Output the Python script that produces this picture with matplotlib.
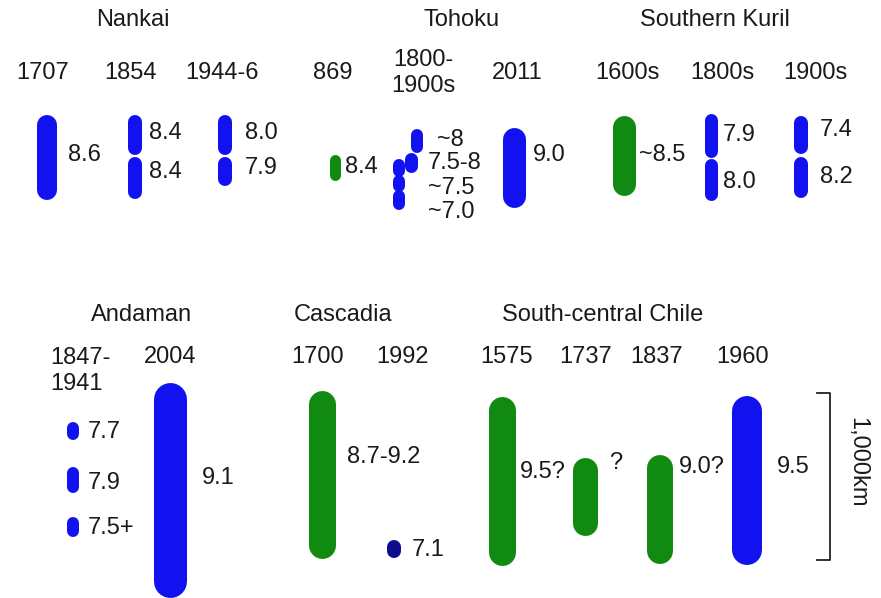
import matplotlib.pyplot as plt

plt.rcParams['font.family'] = ['Liberation Sans', 'DejaVu Sans']

# rupture extents along strike (km), measured from the top of each row
seg_start_km = [30, 30, 282, 30, 282, 264, 114, 252, 294, 390, 480, 102, 30, 18, 288, 36, 282,
                252, 522, 822, 12, 60, 960, 96, 462, 450, 96]
seg_end_km = [540, 270, 534, 270, 456, 420, 258, 372, 402, 492, 600, 582, 510, 282, 540, 264, 528,
              360, 678, 942, 1302, 1068, 1068, 1110, 930, 1104, 1110]
seg_kind = ['b', 'b', 'b', 'b', 'b', 'g', 'b', 'b', 'b', 'b', 'b', 'b', 'g', 'b', 'b', 'b', 'b',
            'b', 'b', 'b', 'b', 'g', 'n', 'g', 'g', 'g', 'b']

magnitudes = ["8.6", "8.4", "8.4", "8.0", "7.9", "8.4", "~8", "7.5-8", "~7.5", "~7.0", "9.0",
              "~8.5", "7.9", "8.0", "7.4", "8.2",
              "7.7", "7.9", "7.5+", "9.1", "8.7-9.2", "7.1", "9.5?", "?", "9.0?", "9.5"]

regions = ["Nankai", "Tohoku", "Southern Kuril", "Andaman", "Cascadia", "South-central Chile"]
years = ["1707", "1854", "1944-6", "869", "1800-\n1900s", "2011", "1600s", "1800s", "1900s",
         "1847-\n1941", "2004", "1700", "1992", "1575", "1737", "1837", "1960"]

# layout (pixels)
KM_PER_PX = 6.0
W, H = 881, 598
row_top = [110, 380]
seg_row = [0] * 17 + [1] * 10
seg_x = [47, 135, 135, 225, 225, 334.5, 417, 410.5, 399, 399, 399, 513.5, 623.5, 710.5, 710.5, 801, 801,
         73, 73, 73, 169.5, 321.5, 393.5, 501.5, 584.5, 660, 747]
seg_w = [20, 14, 14, 14, 14, 11, 12, 13, 12, 12, 12, 23, 23, 13, 13, 14, 14,
         12, 12, 12, 33, 27, 14, 27, 25, 26, 30]
mag_x = [68, 149, 149, 245, 245, 345, 437, 428, 428, 428, 533, 639, 723, 723, 820, 820,
         88, 88, 88, 202, 347, 412, 520, 609, 679, 777]
mag_y = [155, 133, 172, 133, 168, 167, 140, 163, 188, 212, 155, 155, 135, 182, 130, 177,
         432, 483, 528, 478, 457, 550, 472, 463, 467, 467]
region_x = [133, 462, 715, 142, 343, 603]
region_y = [20, 20, 20, 315, 315, 315]
year_x = [43, 130, 222, 333, 423, 517, 627, 722, 815, 50, 170, 318, 403, 507, 586, 657, 743]
year_y = [73, 73, 73, 73, 73, 73, 73, 73, 73, 371, 357, 357, 357, 357, 357, 357, 357]

colors = {'b': '#1212f0', 'g': '#118a11', 'n': '#0c0c8e'}
FS = 17
TXT = '#1a1a1a'

fig = plt.figure(figsize=(W / 100, H / 100), dpi=100)
ax = fig.add_axes([0, 0, 1, 1])
ax.set_xlim(0, W)
ax.set_ylim(H * KM_PER_PX, 0)
ax.axis('off')

for i in range(len(seg_start_km)):
    base = row_top[seg_row[i]] * KM_PER_PX
    r = seg_w[i] / 2 * KM_PER_PX
    y0 = base + seg_start_km[i] + r
    y1 = base + seg_end_km[i] - r
    if y1 < y0:
        y0 = y1 = (y0 + y1) / 2
    ax.plot([seg_x[i], seg_x[i]], [y0, y1], color=colors[seg_kind[i]],
            lw=seg_w[i] * 0.72, solid_capstyle='round')

for t, x, y in zip(magnitudes, mag_x, mag_y):
    ax.text(x, y * KM_PER_PX, t, fontsize=FS, ha='left', va='center', color=TXT)

for t, x, y in zip(regions, region_x, region_y):
    ax.text(x, y * KM_PER_PX, t, fontsize=FS, ha='center', va='center', color=TXT)

for t, x, y in zip(years, year_x, year_y):
    if t.startswith("1847"):
        ax.text(x, y * KM_PER_PX, t, fontsize=FS, ha='left', va='center',
                linespacing=1.2, color=TXT)
    else:
        ax.text(x, y * KM_PER_PX, t, fontsize=FS, ha='center', va='center',
                multialignment='center', linespacing=1.25, color=TXT)

# scale bar: 1,000 km
sb_top = 393 * KM_PER_PX
sb_len = 1000
ax.plot([817, 830, 830, 817], [sb_top, sb_top, sb_top + sb_len, sb_top + sb_len],
        color='#222222', lw=1.3)
ax.text(857, 462 * KM_PER_PX, "1,000km", fontsize=FS, rotation=-90,
        ha='center', va='center', color=TXT)

fig.savefig('out.png', dpi=100)
